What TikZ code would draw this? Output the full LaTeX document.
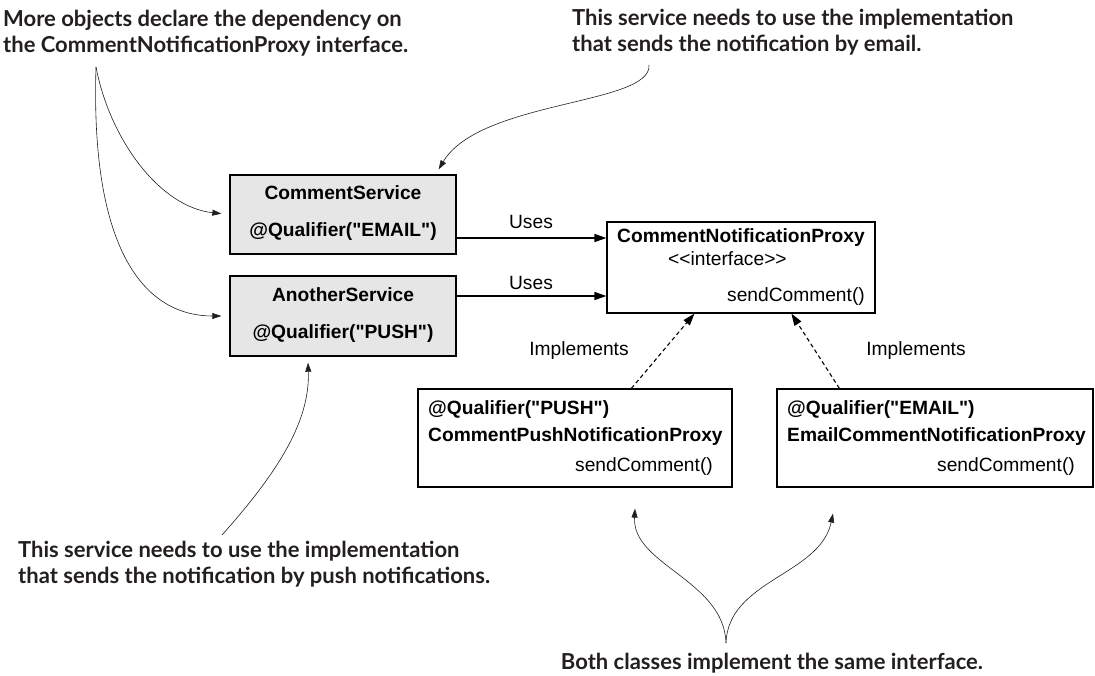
\documentclass[tikz,border=0pt]{standalone}
\usepackage{fontspec}
\usetikzlibrary{arrows.meta,calc}
\newfontfamily\annotfont{Lato}
\newfontfamily\diafont{Liberation Sans}
\definecolor{boxgray}{HTML}{E6E6E6}
\definecolor{inkdark}{HTML}{231F20}
\tikzset{
  annot/.style={font=\annotfont\bfseries\fontsize{22}{26}\selectfont, text=inkdark, inner sep=0pt},
  dtext/.style={font=\diafont\fontsize{19.2}{22}\selectfont, inner sep=0pt},
  dbold/.style={dtext, font=\diafont\bfseries\fontsize{19.2}{22}\selectfont},
  svcbox/.style={draw=black, line width=1.4pt, fill=boxgray, inner sep=0pt},
  clsbox/.style={draw=black, line width=1.2pt, fill=white, inner sep=0pt},
  usesarrow/.style={line width=1.3pt, -{Triangle[length=12pt,width=8pt]}},
  implarrow/.style={line width=1.1pt, dash pattern=on 4pt off 3pt, -{Triangle[length=12pt,width=8pt]}},
  notearrow/.style={line width=0.6pt, draw=inkdark, -{Triangle[length=9pt,width=6pt]}}
}
\begin{document}
\begin{tikzpicture}[x=1pt,y=-1pt]
\useasboundingbox (0,0) rectangle (1095,675);

% service boxes
\node[svcbox, minimum width=226pt, minimum height=79pt] (cs) at (343,214.5) {};
\node[dbold] (csname) at (343,193) {CommentService};
\node[dbold] (csq) at (343,232) {@Qualifier("EMAIL")};

\node[svcbox, minimum width=226pt, minimum height=80pt] (as) at (343,316) {};
\node[dbold] (asname) at (343,295) {AnotherService};
\node[dbold] (asq) at (343,334) {@Qualifier("PUSH")};

% interface box
\node[clsbox, minimum width=268pt, minimum height=91pt] (ifc) at (741,267.5) {};
\node[dbold, anchor=west] (ifcname) at (617,238) {CommentNotificationProxy};
\node[dtext, anchor=west] (ifcst) at (668,259) {<<interface>>};
\node[dtext, anchor=east] (ifcm) at (865,297) {sendComment()};

% implementation boxes
\node[clsbox, minimum width=314pt, minimum height=98pt] (push) at (575,438) {};
\node[dbold, anchor=west] (pushq) at (428,410) {@Qualifier("PUSH")};
\node[dbold, anchor=west] (pushname) at (428,437) {CommentPushNotificationProxy};
\node[dtext, anchor=east] (pushm) at (713,467) {sendComment()};

\node[clsbox, minimum width=316pt, minimum height=98pt] (email) at (935,438) {};
\node[dbold, anchor=west] (emailq) at (787,410) {@Qualifier("EMAIL")};
\node[dbold, anchor=west] (emailname) at (787,437) {EmailCommentNotificationProxy};
\node[dtext, anchor=east] (emailm) at (1075,467) {sendComment()};

% uses arrows
\draw[usesarrow] (cs.east |- 0,238) -- (ifc.west |- 0,238);
\node[dtext] (uses1) at (531,222) {Uses};
\draw[usesarrow] (as.east |- 0,296) -- (ifc.west |- 0,296);
\node[dtext] (uses2) at (531,283) {Uses};

% implements arrows
\draw[implarrow] ([xshift=214pt]push.north west) -- ([xshift=88pt]ifc.south west);
\node[dtext] (impl1) at (579,351) {Implements};
\draw[implarrow] ([xshift=63pt]email.north west) -- ([xshift=185pt]ifc.south west);
\node[dtext] (impl2) at (916,351) {Implements};

% annotations
\node[annot, anchor=base west] (n1a) at (3,26) {More objects declare the dependency on};
\node[annot, anchor=base west] (n1b) at (3,52) {the CommentNotificationProxy interface.};
\node[annot, anchor=base west] (n2a) at (572,25) {This service needs to use the implementation};
\node[annot, anchor=base west] (n2b) at (572,51) {that sends the notification by email.};
\node[annot, anchor=base west] (n3a) at (18,557) {This service needs to use the implementation};
\node[annot, anchor=base west] (n3b) at (18,583) {that sends the notification by push notifications.};
\node[annot, anchor=base] (n4) at (772,669) {Both classes implement the same interface.};

\coordinate (n1s) at (96,67);
\coordinate (n2s) at (649,65);
\coordinate (n3s) at (222,535);
\coordinate (n4s) at (726,643);

\draw[notearrow, shorten >=8pt] (n1s) .. controls (110,140) and (160,207) .. (cs.west);
\draw[notearrow, shorten >=8pt] (n1s) .. controls (90,260) and (150,316) .. (as.west);
\draw[notearrow] (n2s) .. controls (652,105) and (480,100) .. ([shift={(-18pt,5pt)}]cs.north east);
\draw[notearrow] (n3s) .. controls (280,470) and (310,420) .. ([shift={(-35pt,-6pt)}]as.south);
\draw[notearrow] (n4s) .. controls (724,580) and (632,565) .. ([shift={(60pt,-21pt)}]push.south);
\draw[notearrow] (n4s) .. controls (728,580) and (820,575) .. ([shift={(-102pt,-26pt)}]email.south);
\end{tikzpicture}
\end{document}
